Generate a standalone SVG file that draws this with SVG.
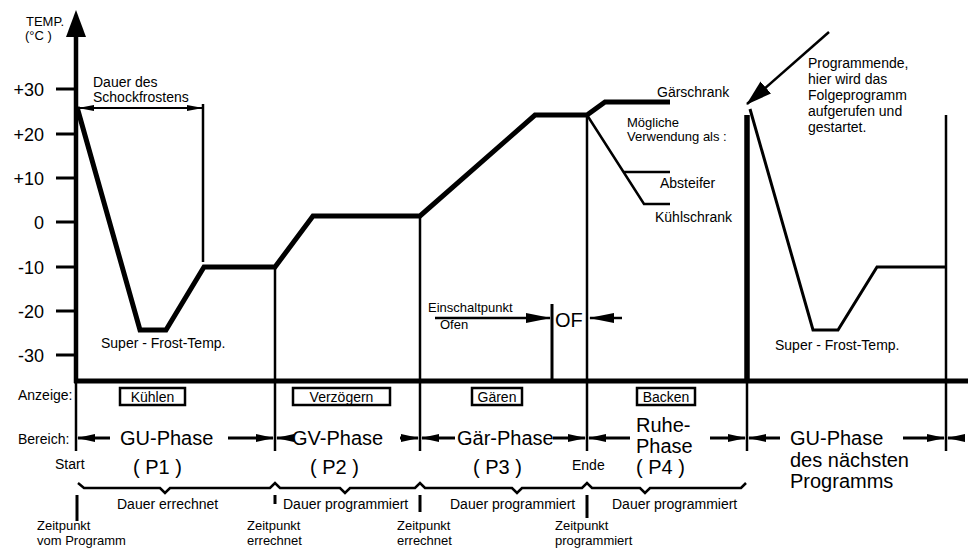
<svg xmlns="http://www.w3.org/2000/svg" width="974" height="549" viewBox="0 0 974 549">
<defs>
<style>
text{font-family:"Liberation Sans",Arial,sans-serif;fill:#000}
.s{font-size:14px}
.s13{font-size:13px}
.ax{font-size:18px;text-anchor:end}
.b{font-size:20px}
.ln{stroke:#000;fill:none}
.box{fill:#fff;stroke:#000;stroke-width:2.5}
.c{text-anchor:middle}
</style>
<marker id="ah" viewBox="0 0 18 8" markerWidth="18" markerHeight="8" refX="17" refY="4" orient="auto-start-reverse" markerUnits="userSpaceOnUse"><path d="M0,0 L18,4 L0,8 z" fill="#000"/></marker>
<marker id="ahs" viewBox="0 0 16 6" markerWidth="16" markerHeight="6" refX="15" refY="3" orient="auto-start-reverse" markerUnits="userSpaceOnUse"><path d="M0,0 L16,3 L0,6 z" fill="#000"/></marker>
<marker id="ahb" viewBox="0 0 25 10" markerWidth="25" markerHeight="10" refX="24" refY="5" orient="auto" markerUnits="userSpaceOnUse"><path d="M0,0 L25,5 L0,10 z" fill="#000"/></marker>
<marker id="ahp" viewBox="0 0 26 16" markerWidth="26" markerHeight="16" refX="25" refY="8" orient="auto" markerUnits="userSpaceOnUse"><path d="M0,0 L26,8 L0,16 z" fill="#000"/></marker>
</defs>
<rect width="974" height="549" fill="#fff"/>

<g id="axis">
<polygon points="76,10 66,37 86,37" fill="#000"/>
<line class="ln" x1="76" y1="30" x2="76" y2="383" stroke-width="4.5"/>
<line class="ln" x1="76" y1="381" x2="76" y2="451" stroke-width="2.5"/>
<line class="ln" x1="74" y1="381" x2="968" y2="381" stroke-width="5"/>
<g class="ln" stroke-width="3">
<line x1="56" y1="89" x2="76" y2="89"/>
<line x1="56" y1="134" x2="76" y2="134"/>
<line x1="56" y1="178" x2="76" y2="178"/>
<line x1="56" y1="222" x2="76" y2="222"/>
<line x1="56" y1="267" x2="76" y2="267"/>
<line x1="56" y1="311" x2="76" y2="311"/>
<line x1="56" y1="355" x2="76" y2="355"/>
</g>
<text x="26" y="26" style="font-size:13px">TEMP.</text>
<text x="25" y="40" style="font-size:13px">(°C )</text>
<text class="ax" x="44" y="96">+30</text>
<text class="ax" x="44" y="141">+20</text>
<text class="ax" x="44" y="185">+10</text>
<text class="ax" x="44" y="229">0</text>
<text class="ax" x="44" y="274">-10</text>
<text class="ax" x="44" y="318">-20</text>
<text class="ax" x="44" y="362">-30</text>
</g>

<g id="curve">
<polyline class="ln" stroke-width="5" stroke-linejoin="miter" points="77,107 140,330 166,330 204,267 275,267 313,216 420,216 535,115 587,115 605,102 670,102"/>
<polyline class="ln" stroke-width="2.5" points="587,115 644,204 670,204"/>
<line class="ln" stroke-width="2.5" x1="624" y1="172" x2="670" y2="172"/>
<polyline class="ln" stroke-width="3" points="750,109 813,330 838,330 877,267 946,267"/>
</g>

<g id="verticals" class="ln">
<line x1="203" y1="104" x2="203" y2="262" stroke-width="2.5"/>
<line x1="275" y1="267" x2="275" y2="451" stroke-width="2.5"/>
<line x1="420" y1="216" x2="420" y2="451" stroke-width="2.5"/>
<line x1="587" y1="115" x2="587" y2="451" stroke-width="2.5"/>
<line x1="552" y1="304" x2="552" y2="381" stroke-width="3"/>
<line x1="747" y1="115" x2="747" y2="381" stroke-width="5.5"/>
<line x1="747" y1="381" x2="747" y2="451" stroke-width="2.5"/>
<line x1="946" y1="115" x2="946" y2="451" stroke-width="2.5"/>
</g>

<g id="connectors" class="ln">
<line x1="79" y1="108" x2="202" y2="108" stroke-width="2" marker-start="url(#ahs)" marker-end="url(#ahs)"/>
<line x1="435" y1="318" x2="550" y2="318" stroke-width="2.5" marker-end="url(#ahb)"/>
<line x1="622" y1="318" x2="590" y2="318" stroke-width="2.5" marker-end="url(#ahb)"/>
<line x1="829" y1="32" x2="747" y2="104" stroke-width="2.5" marker-end="url(#ahp)"/>
<g stroke-width="3">
<line x1="110" y1="438" x2="78" y2="438" marker-end="url(#ah)"/>
<line x1="228" y1="438" x2="273" y2="438" marker-end="url(#ah)"/>
<line x1="292" y1="438" x2="277" y2="438" marker-end="url(#ah)"/>
<line x1="400" y1="438" x2="418" y2="438" marker-end="url(#ah)"/>
<line x1="455" y1="438" x2="422" y2="438" marker-end="url(#ah)"/>
<line x1="553" y1="438" x2="585" y2="438" marker-end="url(#ah)"/>
<line x1="630" y1="438" x2="589" y2="438" marker-end="url(#ah)"/>
<line x1="710" y1="438" x2="745" y2="438" marker-end="url(#ah)"/>
<line x1="780" y1="438" x2="749" y2="438" marker-end="url(#ah)"/>
<line x1="903" y1="438" x2="944" y2="438" marker-end="url(#ah)"/>
<line x1="962" y1="438" x2="948" y2="438" marker-end="url(#ah)"/>
</g>
<polyline stroke-width="2.5" points="78,483 84,488 160,488 165,493 170,488 270,488 275,483 280,488 340,488 345,493 350,488 415,488 420,483 425,488 512,488 517,493 522,488 582,488 587,483 592,488 640,488 645,493 650,488 741,488 746,483"/>
<line x1="77" y1="495" x2="77" y2="521" stroke-width="3"/>
<line x1="275" y1="495" x2="275" y2="504" stroke-width="3"/>
<line x1="420" y1="495" x2="420" y2="512" stroke-width="3"/>
<line x1="587" y1="495" x2="587" y2="518" stroke-width="3"/>
</g>

<g id="annotations">
<text class="s" x="93" y="87">Dauer des</text>
<text class="s" x="93" y="102">Schockfrostens</text>
<text class="s" x="101" y="348">Super - Frost-Temp.</text>
<text class="s" x="775" y="350">Super - Frost-Temp.</text>
<text class="s13" x="428" y="312">Einschaltpunkt</text>
<text class="s13" x="440" y="329">Ofen</text>
<text class="b" x="555" y="327">OF</text>
<text class="s" x="657" y="97">Gärschrank</text>
<text class="s13" x="627" y="127">Mögliche</text>
<text class="s13" x="627" y="141">Verwendung als :</text>
<text class="s" x="660" y="188">Absteifer</text>
<text class="s" x="655" y="222">Kühlschrank</text>
<text class="s" x="808" y="68">Programmende,</text>
<text class="s" x="808" y="84">hier wird das</text>
<text class="s" x="808" y="100">Folgeprogramm</text>
<text class="s" x="808" y="116">aufgerufen und</text>
<text class="s" x="808" y="132">gestartet.</text>
</g>

<g id="anzeige">
<text class="s" x="18" y="400">Anzeige:</text>
<g id="box-kuehlen"><rect class="box" x="120" y="388" width="65" height="17"/><text class="s c" x="152.5" y="402">Kühlen</text></g>
<g id="box-verzoegern"><rect class="box" x="293" y="388" width="97" height="17"/><text class="s c" x="341.5" y="402">Verzögern</text></g>
<g id="box-gaeren"><rect class="box" x="472" y="388" width="50" height="17"/><text class="s c" x="497" y="402">Gären</text></g>
<g id="box-backen"><rect class="box" x="637" y="388" width="58" height="17"/><text class="s c" x="666" y="402">Backen</text></g>
</g>

<g id="bereich">
<text class="s" x="18" y="444">Bereich:</text>
<g id="p1"><text class="b" x="120" y="445">GU-Phase</text><text class="b" x="133" y="474">( P1 )</text></g>
<g id="p2"><text class="b" x="292" y="445">GV-Phase</text><text class="b" x="310" y="474">( P2 )</text></g>
<g id="p3"><text class="b" x="457" y="445">Gär-Phase</text><text class="b" x="473" y="474">( P3 )</text></g>
<g id="p4"><text class="b" x="636" y="432">Ruhe-</text><text class="b" x="636" y="453">Phase</text><text class="b" x="636" y="474">( P4 )</text></g>
<g id="pnext"><text class="b" x="790" y="445">GU-Phase</text><text class="b" x="790" y="467">des nächsten</text><text class="b" x="790" y="488">Programms</text></g>
<text class="s" x="55" y="469">Start</text>
<text class="s" x="572" y="470">Ende</text>
</g>

<g id="durations">
<text class="s" x="117" y="509">Dauer errechnet</text>
<text class="s" x="283" y="509">Dauer programmiert</text>
<text class="s" x="450" y="509">Dauer programmiert</text>
<text class="s" x="612" y="509">Dauer programmiert</text>
<text class="s13" x="37" y="530">Zeitpunkt</text>
<text class="s13" x="37" y="545">vom Programm</text>
<text class="s13" x="247" y="530">Zeitpunkt</text>
<text class="s13" x="247" y="545">errechnet</text>
<text class="s13" x="397" y="530">Zeitpunkt</text>
<text class="s13" x="397" y="545">errechnet</text>
<text class="s13" x="555" y="530">Zeitpunkt</text>
<text class="s13" x="555" y="545">programmiert</text>
</g>
</svg>
